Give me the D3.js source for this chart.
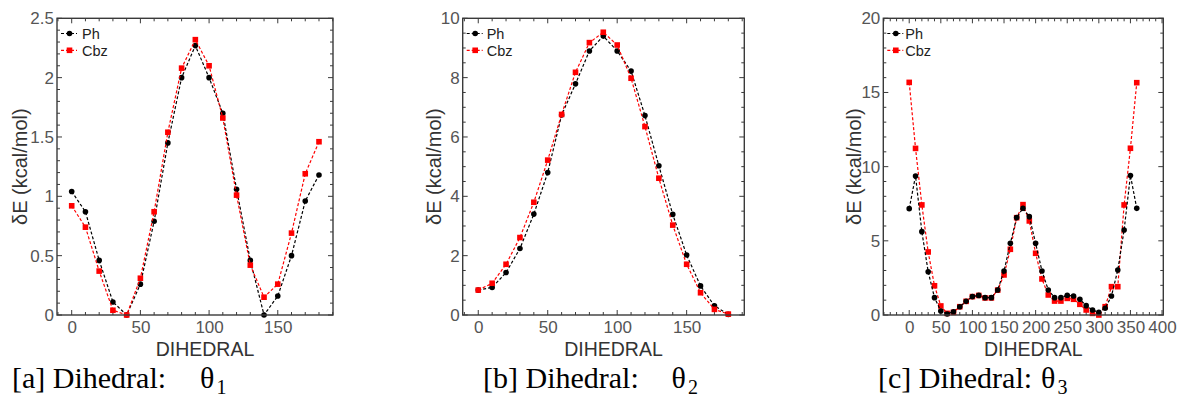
<!DOCTYPE html>
<html><head><meta charset="utf-8">
<script src="https://cdn.jsdelivr.net/npm/d3@7"></script>
<style>
html,body{margin:0;padding:0;background:#fff;}
svg{display:block;}
</style></head>
<body>
<svg id="chart" width="1177" height="396"></svg>
<script>
// ---- data ----
const seriesNames = ["Ph", "Cbz"];
const dihedralA = [0,10,20,30,40,50,60,70,80,90,100,110,120,130,140,150,160,170,180];
const phA  = [1.04,0.87,0.46,0.11,0.0,0.26,0.79,1.45,2.0,2.27,2.0,1.70,1.06,0.46,0.0,0.16,0.50,0.96,1.18];
const cbzA = [0.92,0.74,0.37,0.04,0.0,0.31,0.87,1.54,2.08,2.32,2.10,1.66,1.01,0.42,0.15,0.26,0.69,1.19,1.46];

const dihedralB = [0,10,20,30,40,50,60,70,80,90,100,110,120,130,140,150,160,170,180];
const phB  = [0.84,0.93,1.43,2.24,3.40,4.80,6.74,7.79,8.90,9.40,8.90,8.22,6.72,5.03,3.39,2.02,0.98,0.31,0.02];
const cbzB = [0.84,1.07,1.71,2.61,3.80,5.22,6.76,8.18,9.18,9.53,9.10,7.98,6.35,4.61,3.03,1.71,0.75,0.19,0.03];

const dihedralC = [0,10,20,30,40,50,60,70,80,90,100,110,120,130,140,150,160,170,180,
  190,200,210,220,230,240,250,260,270,280,290,300,310,320,330,340,350,360];
const phC  = [7.17,9.37,5.62,2.92,1.17,0.27,0.07,0.22,0.56,0.92,1.24,1.32,1.17,1.17,1.69,2.97,4.83,6.57,7.19,
  6.63,4.83,2.97,1.69,1.17,1.17,1.33,1.28,1.06,0.63,0.34,0.18,0.45,1.28,3.03,5.73,9.40,7.19];
const cbzC = [15.68,11.23,7.42,4.25,1.97,0.61,0.11,0.18,0.56,0.92,1.24,1.32,1.15,1.15,1.68,2.70,4.43,6.56,7.44,
  6.34,4.16,2.43,1.35,0.94,0.94,1.12,1.06,0.72,0.34,0.11,0.0,0.56,1.91,1.91,7.42,11.24,15.66];

const xTicksAB = [0,50,100,150];
const xTicksC = [0,50,100,150,200,250,300,350,400];
const yTicksA = [0,0.5,1,1.5,2,2.5];
const yTicksB = [0,2,4,6,8,10];
const yTicksC = [0,5,10,15,20];
const captionsMain = ["[a] Dihedral:", "[b] Dihedral:", "[c] Dihedral:"];
const captionSubs = ["1","2","3"];
const xLabel = "DIHEDRAL";
const yLabel = "δE (kcal/mol)";

// ---- layout ----
const panels = [
  {x:dihedralA, ph:phA, cbz:cbzA, x0:57, x1:333, xd:[-10.7,190.2], yd:[0,2.5], xt:xTicksAB, xm:10, yt:yTicksA, ym:0.1,
   ylabX:27, legX:57, legTx:25, redTop:true, capX:12, thX:200},
  {x:dihedralB, ph:phB, cbz:cbzB, x0:462.7, x1:744.3, xd:[-11.2,191.5], yd:[0,10], xt:xTicksAB, xm:10, yt:yTicksB, ym:0.5,
   ylabX:441, legX:462.7, legTx:24, redTop:true, capX:483, thX:671.5},
  {x:dihedralC, ph:phC, cbz:cbzC, x0:883.3, x1:1163.3, xd:[-41,402], yd:[0,20], xt:xTicksC, xm:10, yt:yTicksC, ym:1,
   ylabX:861, legX:883.3, legTx:22, redTop:false, capX:878, thX:1041}
];
const plotTop = 18.3, plotBottom = 315;
const svg = d3.select("#chart");
const sans = "Liberation Sans, Arial, sans-serif";
const serif = "Liberation Serif, Times New Roman, serif";
const frameColor = "#3a3a3a";
const tickColor = "#555";

panels.forEach((p, pi) => {
  const x = d3.scaleLinear().domain(p.xd).range([p.x0, p.x1]);
  const y = d3.scaleLinear().domain(p.yd).range([plotBottom, plotTop]);
  const g = svg.append("g");

  const xMinor = d3.range(Math.ceil(p.xd[0]/p.xm)*p.xm, p.xd[1]+1e-9, p.xm);
  const yMinor = d3.range(p.yd[0], p.yd[1]+1e-9, p.ym);
  const isMajor = (v, arr) => arr.some(t => Math.abs(t - v) < 1e-6);
  xMinor.forEach(v => {
    const L = isMajor(v, p.xt) ? 5 : 3;
    g.append("line").attr("x1", x(v)).attr("x2", x(v)).attr("y1", plotBottom).attr("y2", plotBottom - L).attr("stroke", frameColor).attr("stroke-width", 1);
    g.append("line").attr("x1", x(v)).attr("x2", x(v)).attr("y1", plotTop).attr("y2", plotTop + L).attr("stroke", frameColor).attr("stroke-width", 1);
  });
  yMinor.forEach(v => {
    const L = isMajor(v, p.yt) ? 5 : 3;
    g.append("line").attr("x1", p.x0).attr("x2", p.x0 + L).attr("y1", y(v)).attr("y2", y(v)).attr("stroke", frameColor).attr("stroke-width", 1);
    g.append("line").attr("x1", p.x1).attr("x2", p.x1 - L).attr("y1", y(v)).attr("y2", y(v)).attr("stroke", frameColor).attr("stroke-width", 1);
  });

  const xAxis = d3.axisBottom(x).tickValues(p.xt).tickSize(0).tickPadding(6).tickFormat(d3.format("d"));
  const xa = g.append("g").attr("transform", `translate(0,${plotBottom})`).call(xAxis);
  xa.select(".domain").remove();
  xa.selectAll("text").attr("font-family", sans).attr("font-size", 17).attr("fill", tickColor);

  const yAxis = d3.axisLeft(y).tickValues(p.yt).tickSize(0).tickPadding(3).tickFormat(d => String(d));
  const ya = g.append("g").attr("transform", `translate(${p.x0},0)`).call(yAxis);
  ya.select(".domain").remove();
  ya.selectAll("text").attr("font-family", sans).attr("font-size", 17).attr("fill", tickColor);

  const drawSeries = (vals, color, shape) => {
    const pts = p.x.map((d, i) => [d, vals[i]]);
    g.append("path").datum(pts)
      .attr("d", d3.line().x(d => x(d[0])).y(d => y(d[1])))
      .attr("fill", "none").attr("stroke", color).attr("stroke-width", 1.2).attr("stroke-dasharray", "3,2");
    if (shape === "circle") {
      g.selectAll(null).data(pts).enter().append("circle")
        .attr("cx", d => x(d[0])).attr("cy", d => y(d[1])).attr("r", 2.8).attr("fill", color);
    } else {
      const s = 5.6;
      g.selectAll(null).data(pts).enter().append("rect")
        .attr("x", d => x(d[0]) - s/2).attr("y", d => y(d[1]) - s/2).attr("width", s).attr("height", s).attr("fill", color);
    }
  };
  if (p.redTop) { drawSeries(p.ph, "#000", "circle"); drawSeries(p.cbz, "#ff0000", "rect"); }
  else { drawSeries(p.cbz, "#ff0000", "rect"); drawSeries(p.ph, "#000", "circle"); }

  g.append("rect").attr("x", p.x0).attr("y", plotTop).attr("width", p.x1 - p.x0).attr("height", plotBottom - plotTop)
    .attr("fill", "none").attr("stroke", frameColor).attr("stroke-width", 1.4);

  const legRows = [{name: seriesNames[0], color: "#000", shape: "circle", yy: 33.5},
                   {name: seriesNames[1], color: "#ff0000", shape: "rect", yy: 50.3}];
  legRows.forEach(r => {
    g.append("line").attr("x1", p.legX + 4).attr("x2", p.legX + 20).attr("y1", r.yy).attr("y2", r.yy)
      .attr("stroke", r.color).attr("stroke-width", 1.2).attr("stroke-dasharray", "3,2");
    if (r.shape === "circle") g.append("circle").attr("cx", p.legX + 12.5).attr("cy", r.yy).attr("r", 2.8).attr("fill", r.color);
    else g.append("rect").attr("x", p.legX + 12.5 - 2.8).attr("y", r.yy - 2.8).attr("width", 5.6).attr("height", 5.6).attr("fill", r.color);
    g.append("text").attr("x", p.legX + p.legTx).attr("y", r.yy).attr("dy", "0.36em")
      .attr("font-family", sans).attr("font-size", 14.5).attr("fill", "#222").text(r.name);
  });

  g.append("text").attr("x", (p.x0 + p.x1)/2 + 10).attr("y", 356).attr("text-anchor", "middle")
    .attr("font-family", sans).attr("font-size", 19.5).attr("fill", "#333").text(xLabel);
  g.append("text").attr("transform", `translate(${p.ylabX},${(plotTop + plotBottom)/2}) rotate(-90)`)
    .attr("text-anchor", "middle").attr("font-family", sans).attr("font-size", 20).attr("fill", "#333").text(yLabel);

  g.append("text").attr("x", p.capX).attr("y", 388).attr("font-family", serif).attr("font-size", 30).attr("fill", "#000").text(captionsMain[pi]);
  g.append("text").attr("x", p.thX).attr("y", 388).attr("font-family", serif).attr("font-size", 30).attr("fill", "#000").text("θ");
  g.append("text").attr("x", p.thX + 16.5).attr("y", 393.5).attr("font-family", serif).attr("font-size", 20).attr("fill", "#000").text(captionSubs[pi]);
});
</script>
</body></html>
